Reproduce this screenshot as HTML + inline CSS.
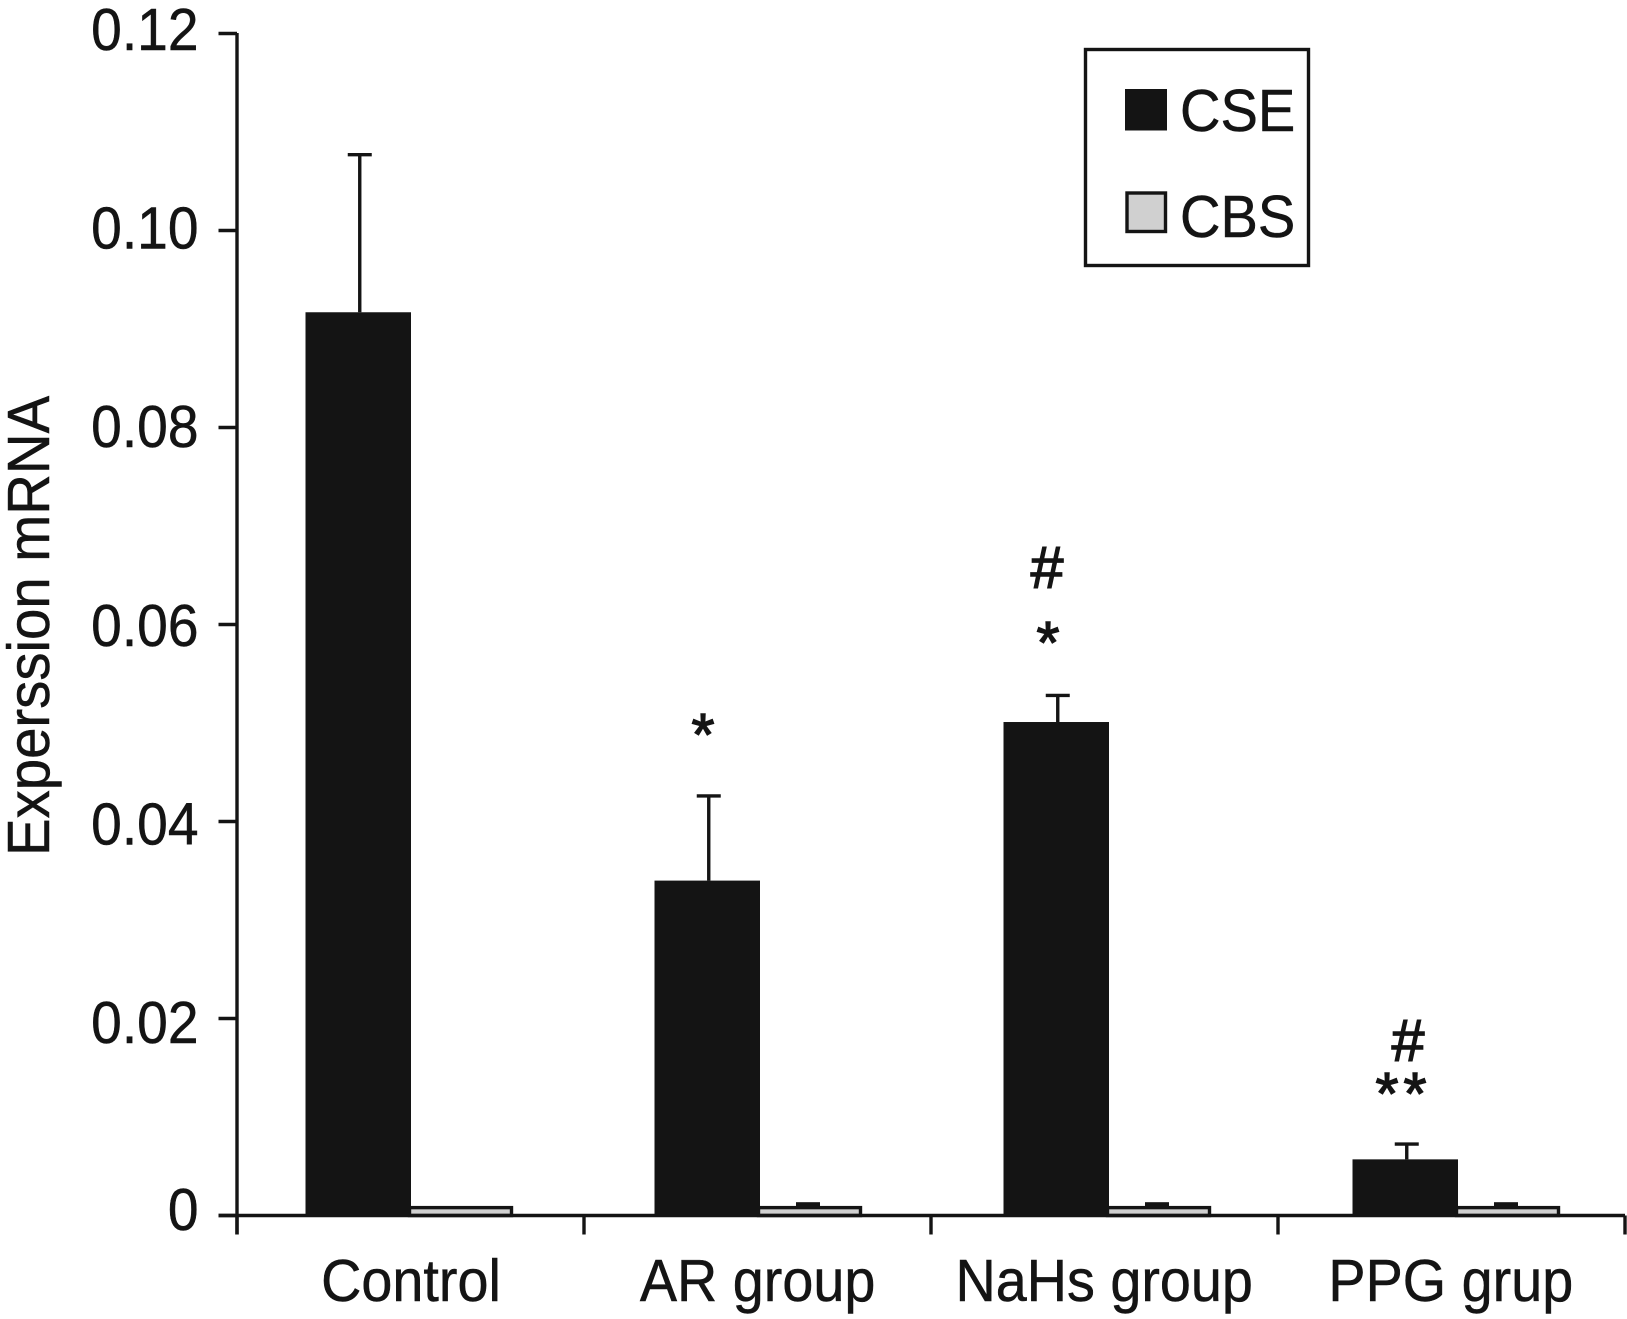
<!DOCTYPE html>
<html>
<head>
<meta charset="utf-8">
<title>Expression mRNA chart</title>
<style>
html,body{margin:0;padding:0;background:#fff;}
svg{display:block;}
text{font-family:"Liberation Sans",sans-serif;fill:#141414;stroke:#141414;stroke-width:0.5px;}
.mark{stroke-width:1.4px;}
</style>
</head>
<body>
<svg id="chart" xmlns="http://www.w3.org/2000/svg" width="1627" height="1319" viewBox="0 0 1627 1319">
  <rect x="0" y="0" width="1627" height="1319" fill="#ffffff"/>
  <text font-size="59" transform="translate(49,856) rotate(-90) scale(0.955,1)">Experssion mRNA</text>

  <g font-size="59">
    <text class="mark" transform="translate(703,755)" text-anchor="middle">*</text>
    <text class="mark" transform="translate(1048,663)" text-anchor="middle">*</text>
    <text class="mark" transform="translate(1047,588)" text-anchor="middle">#</text>
    <text class="mark" transform="translate(1387,1114)" text-anchor="middle">*</text>
    <text class="mark" transform="translate(1415,1114)" text-anchor="middle">*</text>
    <text class="mark" transform="translate(1408,1061)" text-anchor="middle">#</text>
  </g>

  <g>
    <rect x="1085.5" y="49.5" width="223" height="216" fill="#ffffff" stroke="#141414" stroke-width="3.4"/>
    <rect x="1125" y="89" width="42" height="41.5" fill="#141414"/>
    <text font-size="59" transform="translate(1180,131) scale(0.95,1)">CSE</text>
    <rect x="1127" y="193" width="38.5" height="38.5" fill="#d0d0d0" stroke="#141414" stroke-width="3.4"/>
    <text font-size="59" transform="translate(1180,237) scale(0.95,1)">CBS</text>
  </g>
</svg>
<script>
var categories = ['Control', 'AR group', 'NaHs group', 'PPG grup'];
var cseValues = [0.0917, 0.0340, 0.0501, 0.0057];
var cseErrorTops = [0.1077, 0.0426, 0.0528, 0.00725];
var cbsValues = [0.0008, 0.0008, 0.0008, 0.0008];
var cbsErrorTops = [0.0008, 0.0012, 0.0012, 0.0012];
var yTickValues = [0.12, 0.10, 0.08, 0.06, 0.04, 0.02, 0];
var yTickLabels = ['0.12', '0.10', '0.08', '0.06', '0.04', '0.02', '0'];

var INK = '#141414';
var svg = document.getElementById('chart');
var NS = 'http://www.w3.org/2000/svg';

function yScale(v) { return 1215.5 - v * 9850; }
function yLabelBaseline(v) { return v === 0 ? 1230 : 1241.6 - v * 9930; }
function groupLeft(i) { return 305.5 + i * 349; }
function groupTick(i) { return 237 + i * 347; }
function labelCenter(i) { return 411 + i * 346.6; }

var BAR_CSE = 105.5;
var BAR_CBS = 102;
var CAP = 24;

function make(tag, attrs, parent) {
  var el = document.createElementNS(NS, tag);
  for (var k in attrs) { el.setAttribute(k, attrs[k]); }
  (parent || svg).appendChild(el);
  return el;
}
function slug(s) { return s.toLowerCase().replace(/[^a-z0-9]+/g, '-'); }

var axes = make('g', {});



var yAxisLine = make('line', {x1: 237, x2: 237, y1: yScale(0.12) - 0.5, y2: yScale(0) + 19, stroke: INK, 'stroke-width': 3.4}, axes);



yTickValues.forEach(function (v, i) {
  var t = make('line', {x1: 218.5, x2: 237, y1: yScale(v), y2: yScale(v), stroke: INK, 'stroke-width': 3.4}, axes);
  
  
  var l = make('text', {'font-size': 59, 'text-anchor': 'end', transform: 'translate(198.5,' + yLabelBaseline(v) + ') scale(0.935,1)'}, axes);
  l.textContent = yTickLabels[i];
  
  
});

categories.forEach(function (c, i) {
  var g = make('g', {});
  
  

  var x0 = groupLeft(i);
  var x1 = x0 + BAR_CSE;

  // CSE error bar
  var cx = x0 + BAR_CSE / 2 + 1.5;
  var stem = make('line', {x1: cx, x2: cx, y1: yScale(cseErrorTops[i]), y2: yScale(cseValues[i]), stroke: INK, 'stroke-width': 3.4}, g);
  
  
  var cap = make('line', {x1: cx - CAP / 2, x2: cx + CAP / 2, y1: yScale(cseErrorTops[i]), y2: yScale(cseErrorTops[i]), stroke: INK, 'stroke-width': 3.4}, g);
  
  

  // CSE bar
  var bar = make('rect', {x: x0, y: yScale(cseValues[i]), width: BAR_CSE, height: yScale(0) - yScale(cseValues[i]), fill: INK}, g);
  
  

  // CBS error bar
  if (cbsErrorTops[i] > cbsValues[i]) {
    var cx2 = x1 + BAR_CBS / 2 - 3;
    var ebar = make('rect', {x: cx2 - CAP / 2, y: yScale(cbsErrorTops[i]) - 1.5, width: CAP, height: yScale(cbsValues[i]) - yScale(cbsErrorTops[i]) + 1.5, fill: INK}, g);
    
    
  }

  // CBS bar
  var bar2 = make('rect', {x: x1 - 1.5, y: yScale(cbsValues[i]), width: BAR_CBS, height: yScale(0) - yScale(cbsValues[i]), fill: '#d0d0d0', stroke: INK, 'stroke-width': 3.4}, g);
  
  

  // Category label
  var lab = make('text', {'font-size': 59, 'text-anchor': 'middle', transform: 'translate(' + labelCenter(i) + ',1301) scale(0.945,1)'}, g);
  lab.textContent = c;
  
  
});

var xAxisLine = make('line', {x1: 218.5, x2: 1625, y1: yScale(0), y2: yScale(0), stroke: INK, 'stroke-width': 3.6});



for (var i = 0; i <= categories.length; i++) {
  var xt = make('line', {x1: groupTick(i), x2: groupTick(i), y1: yScale(0), y2: yScale(0) + 19, stroke: INK, 'stroke-width': 3.4});
  
  
}
</script>
</body>
</html>
